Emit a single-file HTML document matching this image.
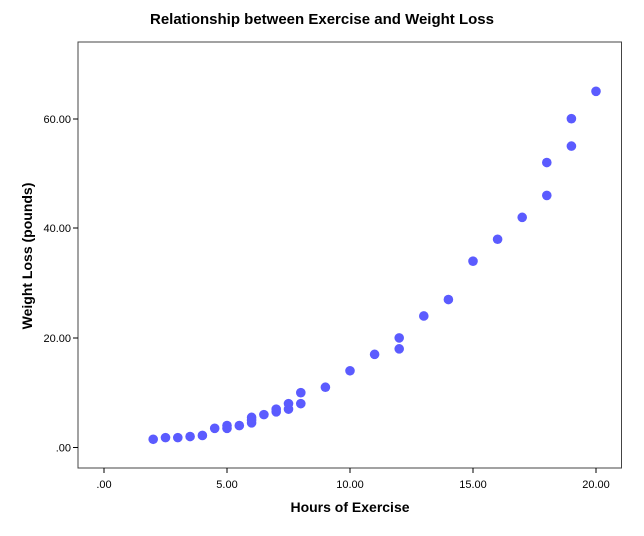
<!DOCTYPE html>
<html><head><style>body{margin:0;background:#fff}</style></head><body>
<svg width="644" height="531" xmlns="http://www.w3.org/2000/svg" font-family="Liberation Sans, Arial, sans-serif">
<rect width="644" height="531" fill="#fff"/>
<text x="322" y="24" text-anchor="middle" font-size="15" font-weight="bold">Relationship between Exercise and Weight Loss</text>
<rect x="78" y="42" width="543.5" height="426" fill="none" stroke="#444" stroke-width="1"/>
<g stroke="#000" stroke-width="1">
<line x1="73" y1="447.5" x2="78" y2="447.5"/><line x1="73" y1="338" x2="78" y2="338"/><line x1="73" y1="228" x2="78" y2="228"/><line x1="73" y1="119" x2="78" y2="119"/>
<line x1="104" y1="468" x2="104" y2="473"/><line x1="227" y1="468" x2="227" y2="473"/><line x1="350" y1="468" x2="350" y2="473"/><line x1="473" y1="468" x2="473" y2="473"/><line x1="596" y1="468" x2="596" y2="473"/>
</g>
<g font-size="11" text-anchor="end">
<text x="71" y="451.5">.00</text><text x="71" y="342">20.00</text><text x="71" y="232">40.00</text><text x="71" y="123">60.00</text>
</g>
<g font-size="11" text-anchor="middle">
<text x="104" y="488">.00</text><text x="227" y="488">5.00</text><text x="350" y="488">10.00</text><text x="473" y="488">15.00</text><text x="596" y="488">20.00</text>
</g>
<text x="350" y="512" text-anchor="middle" font-size="14" font-weight="bold">Hours of Exercise</text>
<text transform="translate(32,256) rotate(-90)" text-anchor="middle" font-size="14" font-weight="bold">Weight Loss (pounds)</text>
<g fill="#5b5bff" id="pts"></g>
</svg>
<script>
var d=[[2,1.5],[2.5,1.8],[3,1.8],[3.5,2],[4,2.2],[4.5,3.5],[5,3.5],[5,4],[5.5,4],[6,4.5],[6,5.5],[6,5],[6.5,6],[7,6.5],[7,7],[7.5,7],[7.5,8],[8,8],[8,10],[9,11],[10,14],[11,17],[12,18],[12,20],[13,24],[14,27],[15,34],[16,38],[17,42],[18,46],[18,52],[19,55],[19,60],[20,65]];
var g=document.getElementById('pts'),s='';
d.forEach(function(p){s+='<circle cx="'+(104+p[0]*24.6)+'" cy="'+(447.5-p[1]*5.48)+'" r="4.8"/>';});
g.innerHTML=s;
</script>
</body></html>
